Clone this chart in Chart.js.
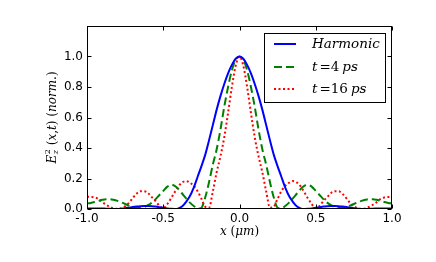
<!DOCTYPE html>
<html lang="en">
<head>
<meta charset="UTF-8">
<title>Field intensity profile</title>
<script src="https://cdn.jsdelivr.net/npm/chart.js"></script>
<style>
  body { margin: 0; background: #fff; }
  #wrap { width: 436px; height: 262px; }
</style>
</head>
<body>
<div id="wrap"><canvas id="chart" width="436" height="262"></canvas></div>
<script>
// x positions (µm)
const xValues = [-1.0,-0.975,-0.95,-0.925,-0.9,-0.875,-0.85,-0.825,-0.8,-0.775,-0.75,-0.725,-0.7,-0.675,-0.65,-0.625,-0.6,-0.575,-0.55,-0.525,
  -0.5,-0.475,-0.45,-0.425,-0.4,-0.375,-0.35,-0.325,-0.3,-0.275,-0.25,-0.225,-0.2,-0.175,-0.15,-0.125,-0.1,-0.075,-0.05,-0.025,
  0.0,0.025,0.05,0.075,0.1,0.125,0.15,0.175,0.2,0.225,0.25,0.275,0.3,0.325,0.35,0.375,0.4,0.425,0.45,0.475,
  0.5,0.525,0.55,0.575,0.6,0.625,0.65,0.675,0.7,0.725,0.75,0.775,0.8,0.825,0.85,0.875,0.9,0.925,0.95,0.975,1.0];

const harmonic = [0.004,0.004,0.004,0.004,0.003,0.002,0.001,0.0,0.0,0.002,0.005,0.009,0.013,0.016,0.018,0.019,0.019,0.018,0.016,0.012,
  0.008,0.004,0.001,0.0,0.004,0.018,0.047,0.085,0.14,0.21,0.28,0.355,0.45,0.55,0.65,0.74,0.82,0.89,0.945,0.985,
  1.0,0.985,0.945,0.89,0.82,0.74,0.65,0.55,0.45,0.355,0.28,0.21,0.14,0.085,0.047,0.018,0.004,0.0,0.001,0.004,
  0.008,0.012,0.016,0.018,0.019,0.019,0.018,0.016,0.013,0.009,0.005,0.002,0.0,0.0,0.001,0.002,0.003,0.004,0.004,0.004,0.004];

const t4ps = [0.036,0.04,0.046,0.053,0.06,0.064,0.064,0.06,0.053,0.044,0.033,0.022,0.012,0.006,0.006,0.012,0.025,0.042,0.065,0.092,
  0.118,0.145,0.158,0.152,0.13,0.10,0.07,0.042,0.02,0.003,0.008,0.075,0.175,0.29,0.39,0.52,0.67,0.80,0.91,0.98,
  1.0,0.98,0.91,0.80,0.67,0.52,0.39,0.29,0.175,0.075,0.008,0.003,0.02,0.042,0.07,0.10,0.13,0.152,0.158,0.145,
  0.118,0.092,0.065,0.042,0.025,0.012,0.006,0.006,0.012,0.022,0.033,0.044,0.053,0.06,0.064,0.064,0.06,0.053,0.046,0.04,0.036];

const t16ps = [0.08,0.079,0.076,0.066,0.045,0.028,0.014,0.004,0.001,0.005,0.018,0.04,0.072,0.1,0.117,0.117,0.105,0.078,0.052,0.02,
  0.005,0.03,0.068,0.11,0.15,0.175,0.183,0.172,0.152,0.117,0.068,0.015,0.008,0.115,0.24,0.345,0.47,0.63,0.80,0.94,
  1.0,0.94,0.80,0.63,0.47,0.345,0.24,0.115,0.008,0.015,0.068,0.117,0.152,0.172,0.183,0.175,0.15,0.11,0.068,0.03,
  0.005,0.02,0.052,0.078,0.105,0.117,0.117,0.1,0.072,0.04,0.018,0.005,0.001,0.004,0.014,0.028,0.045,0.066,0.076,0.079,0.08];

const xTicks = [-1.0, -0.5, 0.0, 0.5, 1.0];
const yTicks = [0.0, 0.2, 0.4, 0.6, 0.8, 1.0];

const SERIF = "'DejaVu Serif', 'Liberation Serif', serif";
const SANS = "'DejaVu Sans', sans-serif";

function pts(ys) {
  return xValues.map((x, i) => ({ x: x, y: ys[i] }));
}

// draws a run of text pieces with different fonts, left to right
function richWidth(ctx, parts) {
  let w = 0;
  parts.forEach(p => { ctx.font = p.f; w += ctx.measureText(p.t).width + (p.gap || 0); });
  return w;
}
function drawRich(ctx, parts, x, y) {
  parts.forEach(p => {
    ctx.font = p.f;
    ctx.fillText(p.t, x, y + (p.dy || 0));
    if (!p.stay) x += ctx.measureText(p.t).width + (p.gap || 0);
  });
}

const decorations = {
  id: 'decorations',
  afterDraw(chart) {
    const { ctx, chartArea: a, scales: { x, y } } = chart;
    ctx.save();
    ctx.strokeStyle = '#000';
    ctx.lineWidth = 1;
    const L = Math.round(a.left) + 0.5, R = Math.round(a.right) - 0.5;
    const T = Math.round(a.top) + 0.5, B = Math.round(a.bottom) - 0.5;
    ctx.beginPath();
    xTicks.forEach(v => {
      const px = Math.round(x.getPixelForValue(v)) + 0.5;
      ctx.moveTo(px, B); ctx.lineTo(px, B - 4);
      ctx.moveTo(px, T); ctx.lineTo(px, T + 4);
    });
    yTicks.forEach(v => {
      const py = Math.round(y.getPixelForValue(v)) + 0.5;
      ctx.moveTo(L, py); ctx.lineTo(L + 4, py);
      ctx.moveTo(R, py); ctx.lineTo(R - 4, py);
    });
    ctx.stroke();
    ctx.strokeRect(L, T, R - L, B - T);

    ctx.fillStyle = '#000';
    ctx.textBaseline = 'middle';
    ctx.textAlign = 'left';

    // x axis label
    const it12 = 'italic 12px ' + SERIF, rm12 = '12px ' + SERIF;
    const xl = [{ t: 'x', f: it12 }, { t: ' (', f: rm12 }, { t: 'μm', f: it12 }, { t: ')', f: rm12 }];
    const xw = richWidth(ctx, xl);
    drawRich(ctx, xl, (a.left + a.right) / 2 - xw / 2, 232);

    // y axis label, rotated
    const it8 = 'italic 8px ' + SERIF;
    const yl = [
      { t: 'E', f: it12, gap: 0.5 },
      { t: '2', f: '8px ' + SERIF, dy: -5, stay: true },
      { t: 'z', f: it8, dy: 3, gap: 1 },
      { t: ' (', f: rm12 }, { t: 'x', f: it12 }, { t: ',', f: rm12 }, { t: 't', f: it12 },
      { t: ') (', f: rm12 }, { t: 'norm', f: it12 }, { t: '.)', f: rm12 }
    ];
    ctx.save();
    ctx.translate(53, (a.top + a.bottom) / 2);
    ctx.rotate(-Math.PI / 2);
    const yw = richWidth(ctx, yl.filter(p => !p.stay));
    drawRich(ctx, yl, -yw / 2, 0);
    ctx.restore();

    // legend box
    const bx = 264, by = 33, bw = 121, bh = 69;
    ctx.fillStyle = '#fff';
    ctx.fillRect(bx, by, bw, bh);
    ctx.strokeStyle = '#000';
    ctx.strokeRect(bx + 0.5, by + 0.5, bw, bh);
    const it14 = 'italic 13.5px ' + SERIF, rm14 = '13.5px ' + SERIF;
    const labels = [
      [{ t: 'Harmonic', f: it14 }],
      [{ t: 't', f: it14, gap: 2 }, { t: '=4', f: rm14, gap: 3 }, { t: 'ps', f: it14 }],
      [{ t: 't', f: it14, gap: 2 }, { t: '=16', f: rm14, gap: 3 }, { t: 'ps', f: it14 }]
    ];
    const rows = [44, 67, 89];
    chart.data.datasets.forEach((ds, i) => {
      ctx.save();
      ctx.strokeStyle = ds.borderColor;
      ctx.lineWidth = ds.borderWidth;
      ctx.setLineDash(ds.borderDash || []);
      ctx.beginPath();
      ctx.moveTo(274, rows[i]);
      ctx.lineTo(296, rows[i]);
      ctx.stroke();
      ctx.restore();
      ctx.fillStyle = '#000';
      drawRich(ctx, labels[i], 312, rows[i]);
    });
    ctx.restore();
  }
};

new Chart(document.getElementById('chart'), {
  type: 'line',
  data: {
    datasets: [
      { label: 'Harmonic', data: pts(harmonic), borderColor: '#0000ff', borderWidth: 2 },
      { label: 't=4 ps', data: pts(t4ps), borderColor: '#008000', borderWidth: 2, borderDash: [8, 4] },
      { label: 't=16 ps', data: pts(t16ps), borderColor: '#ff0000', borderWidth: 2, borderDash: [2, 2.5] }
    ]
  },
  options: {
    responsive: false,
    animation: false,
    layout: { padding: { top: 26, right: 44, left: 0, bottom: 0 } },
    elements: {
      point: { radius: 0 },
      line: { cubicInterpolationMode: 'monotone', fill: false }
    },
    plugins: { legend: { display: false }, tooltip: { enabled: false } },
    scales: {
      x: {
        type: 'linear', min: -1, max: 1,
        afterBuildTicks: s => { s.ticks = xTicks.map(v => ({ value: v })); },
        afterFit: s => { s.height = 53; },
        grid: { display: false, drawTicks: false },
        border: { display: false },
        ticks: { color: '#000', padding: 3, maxRotation: 0, font: { family: SANS, size: 12 },
          callback: v => v.toFixed(1) }
      },
      y: {
        min: 0, max: 1.2,
        afterBuildTicks: s => { s.ticks = yTicks.map(v => ({ value: v })); },
        afterFit: s => { s.width = 87; },
        grid: { display: false, drawTicks: false },
        border: { display: false },
        ticks: { color: '#000', padding: 4, font: { family: SANS, size: 12 },
          callback: v => v.toFixed(1) }
      }
    }
  },
  plugins: [decorations]
});
</script>
</body>
</html>
